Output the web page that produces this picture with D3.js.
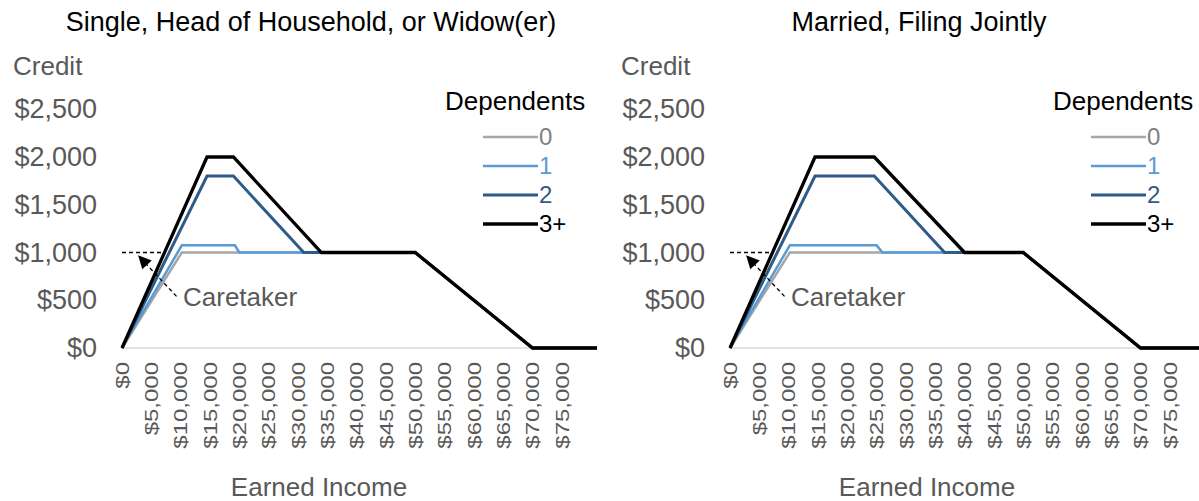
<!DOCTYPE html>
<html>
<head>
<meta charset="utf-8">
<script src="https://cdn.jsdelivr.net/npm/d3@7"></script>
<style>
  body { margin: 0; background: #fff; }
  text { font-family: "Liberation Sans", Arial, sans-serif; }
</style>
</head>
<body>
<div id="chart"></div>
<script>
// ticks
const xTicks = [0, 5000, 10000, 15000, 20000, 25000, 30000, 35000, 40000, 45000, 50000, 55000, 60000, 65000, 70000, 75000];
const yTicks = [0, 500, 1000, 1500, 2000, 2500];
const dependents = ["0", "1", "2", "3+"];

// [earned income, credit]
const single0 = [[0, 0], [10200, 1000], [50000, 1000], [70000, 0], [81000, 0]];
const single1 = [[0, 0], [10200, 1075], [19250, 1075], [20000, 1000], [50000, 1000], [70000, 0], [81000, 0]];
const single2 = [[0, 0], [14500, 1800], [19000, 1800], [31000, 1000], [50000, 1000], [70000, 0], [81000, 0]];
const single3 = [[0, 0], [14500, 2000], [19000, 2000], [34000, 1000], [50000, 1000], [70000, 0], [81000, 0]];

const joint0 = [[0, 0], [10200, 1000], [50000, 1000], [70000, 0], [81000, 0]];
const joint1 = [[0, 0], [10200, 1075], [25000, 1075], [26000, 1000], [50000, 1000], [70000, 0], [81000, 0]];
const joint2 = [[0, 0], [14500, 1800], [24600, 1800], [36600, 1000], [50000, 1000], [70000, 0], [81000, 0]];
const joint3 = [[0, 0], [14500, 2000], [24600, 2000], [40000, 1000], [50000, 1000], [70000, 0], [81000, 0]];

// caretaker note: dashed level, arrow tip, label spot
const caretakerLevel = [[0, 1000], [7000, 1000]];
const caretakerArrow = [[9300, 540], [2900, 960]];
const caretakerLabel = [10400, 530];

const width = 1199;
const height = 501;
const colors = ["#a6a6a6", "#5b9bd5", "#2f5b88", "#000000"];
const labelColors = ["#7f7f7f", "#5b9bd5", "#2f5b88", "#000000"];
const lineWidths = [2.5, 2.5, 3, 3.3];

const panels = [
    { title: "Single, Head of Household, or Widow(er)", offset: 0, series: [single0, single1, single2, single3] },
    { title: "Married, Filing Jointly", offset: 608, series: [joint0, joint1, joint2, joint3] }
];

const svg = d3.select("#chart")
    .append("svg")
    .attr("width", width)
    .attr("height", height);

svg.append("defs").append("marker")
    .attr("id", "arrow")
    .attr("viewBox", "0 0 10 10")
    .attr("refX", 9)
    .attr("refY", 5)
    .attr("markerWidth", 16)
    .attr("markerHeight", 13)
    .attr("markerUnits", "userSpaceOnUse")
    .attr("orient", "auto")
    .append("path")
    .attr("d", "M0,0 L10,5 L0,10 Z")
    .attr("fill", "#000");

const x = d3.scaleLinear().domain([0, 81000]).range([122, 597]);
const y = d3.scaleLinear().domain([0, 2500]).range([348, 109.25]);

const line = d3.line()
    .x(d => x(d[0]))
    .y(d => y(d[1]));

panels.forEach(panel => {
    const g = svg.append("g")
        .attr("transform", `translate(${panel.offset}, 0)`);

    // title
    g.append("text")
        .attr("x", 311)
        .attr("y", 31)
        .attr("text-anchor", "middle")
        .attr("font-size", "27px")
        .attr("fill", "#000")
        .text(panel.title);

    // axis title
    g.append("text")
        .attr("x", 13)
        .attr("y", 75)
        .attr("font-size", "26px")
        .attr("fill", "#595959")
        .text("Credit");

    // y axis, labels only
    const yAxis = g.append("g")
        .attr("transform", `translate(${x(0) - 25}, 0)`)
        .call(d3.axisLeft(y).tickValues(yTicks).tickSize(0).tickPadding(0)
            .tickFormat(d => d3.format("$,")(d)));
    yAxis.select(".domain").remove();
    yAxis.selectAll("text")
        .attr("font-size", "27px")
        .attr("font-family", "Liberation Sans, Arial, sans-serif")
        .attr("fill", "#595959");

    // baseline
    g.append("line")
        .attr("x1", x(0))
        .attr("x2", x(81000))
        .attr("y1", y(0))
        .attr("y2", y(0))
        .attr("stroke", "#d9d9d9")
        .attr("stroke-width", 1.5);

    // x tick labels, rotated
    g.selectAll(".xlab")
        .data(xTicks)
        .enter()
        .append("text")
        .attr("class", "xlab")
        .attr("transform", d => `translate(${x(d)}, 362) rotate(-90) scale(1, 0.8)`)
        .attr("text-anchor", "end")
        .attr("dy", "0.35em")
        .attr("font-size", "24px")
        .attr("fill", "#595959")
        .text(d => d3.format("$,")(d));

    g.append("text")
        .attr("x", 319)
        .attr("y", 496)
        .attr("text-anchor", "middle")
        .attr("font-size", "26px")
        .attr("fill", "#595959")
        .text("Earned Income");

    // series lines
    panel.series.forEach((s, i) => {
        g.append("path")
            .datum(s)
            .attr("d", line)
            .attr("fill", "none")
            .attr("stroke", colors[i])
            .attr("stroke-width", lineWidths[i])
            .attr("stroke-linejoin", "miter");
    });

    // caretaker note
    g.append("path")
        .datum(caretakerLevel)
        .attr("d", line)
        .attr("fill", "none")
        .attr("stroke", "#000")
        .attr("stroke-width", 1.3)
        .attr("stroke-dasharray", "4,3");

    g.append("path")
        .datum(caretakerArrow)
        .attr("d", line)
        .attr("fill", "none")
        .attr("stroke", "#000")
        .attr("stroke-width", 1.3)
        .attr("stroke-dasharray", "4,3")
        .attr("marker-end", "url(#arrow)");

    g.append("text")
        .attr("x", x(caretakerLabel[0]))
        .attr("y", y(caretakerLabel[1]))
        .attr("dy", "0.35em")
        .attr("font-size", "26px")
        .attr("fill", "#595959")
        .text("Caretaker");

    // legend
    const legend = g.append("g")
        .attr("transform", "translate(445, 0)");

    legend.append("text")
        .attr("x", 0)
        .attr("y", 110)
        .attr("font-size", "26px")
        .attr("fill", "#000")
        .text("Dependents");

    dependents.forEach((dep, i) => {
        const row = legend.append("g")
            .attr("transform", `translate(0, ${137 + i * 29})`);

        row.append("line")
            .attr("x1", 38)
            .attr("x2", 93)
            .attr("stroke", colors[i])
            .attr("stroke-width", lineWidths[i]);

        row.append("text")
            .attr("x", 94)
            .attr("dy", "0.35em")
            .attr("font-size", "24px")
            .attr("fill", labelColors[i])
            .text(dep);
    });
});
</script>
</body>
</html>
